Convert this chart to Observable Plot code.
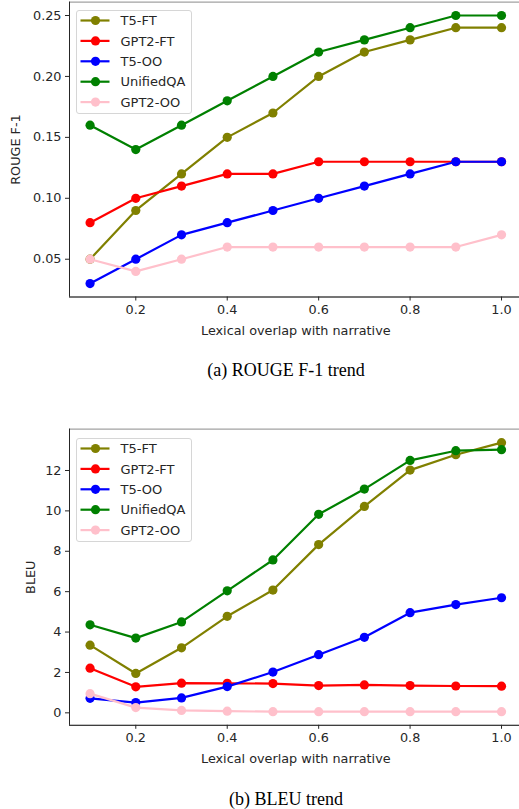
<!DOCTYPE html>
<html>
<head>
<meta charset="utf-8">
<script src="https://cdn.jsdelivr.net/npm/d3@7"></script>
<script src="https://cdn.jsdelivr.net/npm/@observablehq/plot@0.6"></script>
<style>
  html, body { margin: 0; padding: 0; background: #fff; }
  body { width: 519px; height: 809px; position: relative; overflow: hidden; font-family: "DejaVu Sans", sans-serif; }
  .chart { position: absolute; left: 0; width: 530px; }
  .chart svg { max-width: none !important; }
  .caption { position: absolute; transform: translateX(-50%); white-space: nowrap;
             font-family: "Liberation Serif", "Times New Roman", serif; font-size: 18px; line-height: 20px; color: #000; }
  .legend { position: absolute; left: 76px; width: 116px; height: 104px; border: 1px solid #d6d6d6;
            border-radius: 3px; background: rgba(255,255,255,0.85); box-sizing: border-box; }
</style>
</head>
<body>
<div id="chartA" class="chart" style="top:0px"></div>
<div id="legendA" class="legend" style="top:10px"></div>
<div class="caption" style="left:286px; top:360px">(a) ROUGE F-1 trend</div>
<div id="chartB" class="chart" style="top:426px"></div>
<div id="legendB" class="legend" style="top:438px"></div>
<div class="caption" style="left:286px; top:789px">(b) BLEU trend</div>
<script>
// ---- data ----
const overlap = [0.1, 0.2, 0.3, 0.4, 0.5, 0.6, 0.7, 0.8, 0.9, 1.0];
const seriesNames = ["T5-FT", "GPT2-FT", "T5-OO", "UnifiedQA", "GPT2-OO"];
const seriesColors = ["#808000", "#ff0000", "#0000ff", "#008000", "#ffc0cb"];

const rougeT5FT     = [0.05, 0.09, 0.12, 0.15, 0.17, 0.20, 0.22, 0.23, 0.24, 0.24];
const rougeGPT2FT   = [0.08, 0.10, 0.11, 0.12, 0.12, 0.13, 0.13, 0.13, 0.13, 0.13];
const rougeT5OO     = [0.03, 0.05, 0.07, 0.08, 0.09, 0.10, 0.11, 0.12, 0.13, 0.13];
const rougeUnifiedQA= [0.16, 0.14, 0.16, 0.18, 0.20, 0.22, 0.23, 0.24, 0.25, 0.25];
const rougeGPT2OO   = [0.05, 0.04, 0.05, 0.06, 0.06, 0.06, 0.06, 0.06, 0.06, 0.07];

const bleuT5FT      = [3.35, 1.95, 3.22, 4.78, 6.08, 8.33, 10.22, 12.02, 12.78, 13.38];
const bleuGPT2FT    = [2.21, 1.29, 1.47, 1.46, 1.45, 1.35, 1.38, 1.35, 1.33, 1.32];
const bleuT5OO      = [0.72, 0.51, 0.74, 1.30, 2.02, 2.88, 3.74, 4.96, 5.36, 5.70];
const bleuUnifiedQA = [4.36, 3.70, 4.50, 6.04, 7.57, 9.83, 11.08, 12.50, 12.98, 13.03];
const bleuGPT2OO    = [0.95, 0.26, 0.12, 0.08, 0.06, 0.06, 0.06, 0.06, 0.06, 0.06];

const rougeTicks = [0.05, 0.10, 0.15, 0.20, 0.25];
const bleuTicks = [0, 2, 4, 6, 8, 10, 12];
const xTicks = [0.2, 0.4, 0.6, 0.8, 1.0];

function toRows(lists) {
  const rows = [];
  seriesNames.forEach((s, i) => overlap.forEach((x, j) => rows.push({series: s, x, y: lists[i][j]})));
  return rows;
}
const rougeRows = toRows([rougeT5FT, rougeGPT2FT, rougeT5OO, rougeUnifiedQA, rougeGPT2OO]);
const bleuRows  = toRows([bleuT5FT, bleuGPT2FT, bleuT5OO, bleuUnifiedQA, bleuGPT2OO]);

function makeChart(rows, yDomain, yTicks, yFormat, yLabel, yLabelOffset, marginTop, height, marginBottom) {
  const xDomain = [0.055, 1.045];
  const marks = [
    Plot.frame({stroke: "#8a8a8a"}),
    Plot.ruleX([xDomain[0]], {stroke: "#262626"}),
    Plot.ruleY([yDomain[0]], {stroke: "#262626"}),
    Plot.axisX({ticks: xTicks, tickFormat: d3.format(".1f"), tickSize: 4, tickPadding: 4,
                fontSize: 12.8, label: "Lexical overlap with narrative", labelAnchor: "center",
                labelOffset: 38, labelArrow: "none"}),
    Plot.axisY({ticks: yTicks, tickFormat: yFormat, tickSize: 4, tickPadding: 4,
                fontSize: 12.8, label: yLabel, labelAnchor: "center", labelOffset: yLabelOffset, labelArrow: "none"})
  ];
  seriesNames.forEach(s => {
    marks.push(Plot.line(rows, {filter: d => d.series === s, x: "x", y: "y", stroke: "series", strokeWidth: 2.2}));
    marks.push(Plot.dot(rows, {filter: d => d.series === s, x: "x", y: "y", fill: "series", r: 4.6, stroke: "none"}));
  });
  return Plot.plot({
    width: 530, height, marginLeft: 69, marginRight: 8.4, marginTop, marginBottom,
    style: {fontFamily: "DejaVu Sans, sans-serif", fontSize: "13px", color: "#262626", background: "#fff", overflow: "visible", maxWidth: "none"},
    x: {domain: xDomain},
    y: {domain: yDomain},
    color: {domain: seriesNames, range: seriesColors},
    marks
  });
}

function makeLegend(el) {
  const rowH = 20.4;
  let html = `<svg width="116" height="104" style="display:block;overflow:visible">`;
  seriesNames.forEach((s, i) => {
    const cy = 9.5 + i * rowH;
    html += `<line x1="3.5" x2="32.5" y1="${cy}" y2="${cy}" stroke="${seriesColors[i]}" stroke-width="2.2"/>`;
    html += `<circle cx="18.5" cy="${cy}" r="4.6" fill="${seriesColors[i]}"/>`;
    html += `<text x="43.5" y="${cy}" dy="0.36em" font-family="DejaVu Sans, sans-serif" font-size="13px" fill="#262626">${s}</text>`;
  });
  html += `</svg>`;
  el.innerHTML = html;
}

document.getElementById("chartA").append(
  makeChart(rougeRows, [0.019, 0.261], rougeTicks, d3.format(".2f"), "ROUGE F-1", 59, 1.6, 342, 45.5));
document.getElementById("chartB").append(
  makeChart(bleuRows, [-0.617, 14.05], bleuTicks, d3.format("d"), "BLEU", 44, 2.6, 345, 46.2));
makeLegend(document.getElementById("legendA"));
makeLegend(document.getElementById("legendB"));
</script>
</body>
</html>
